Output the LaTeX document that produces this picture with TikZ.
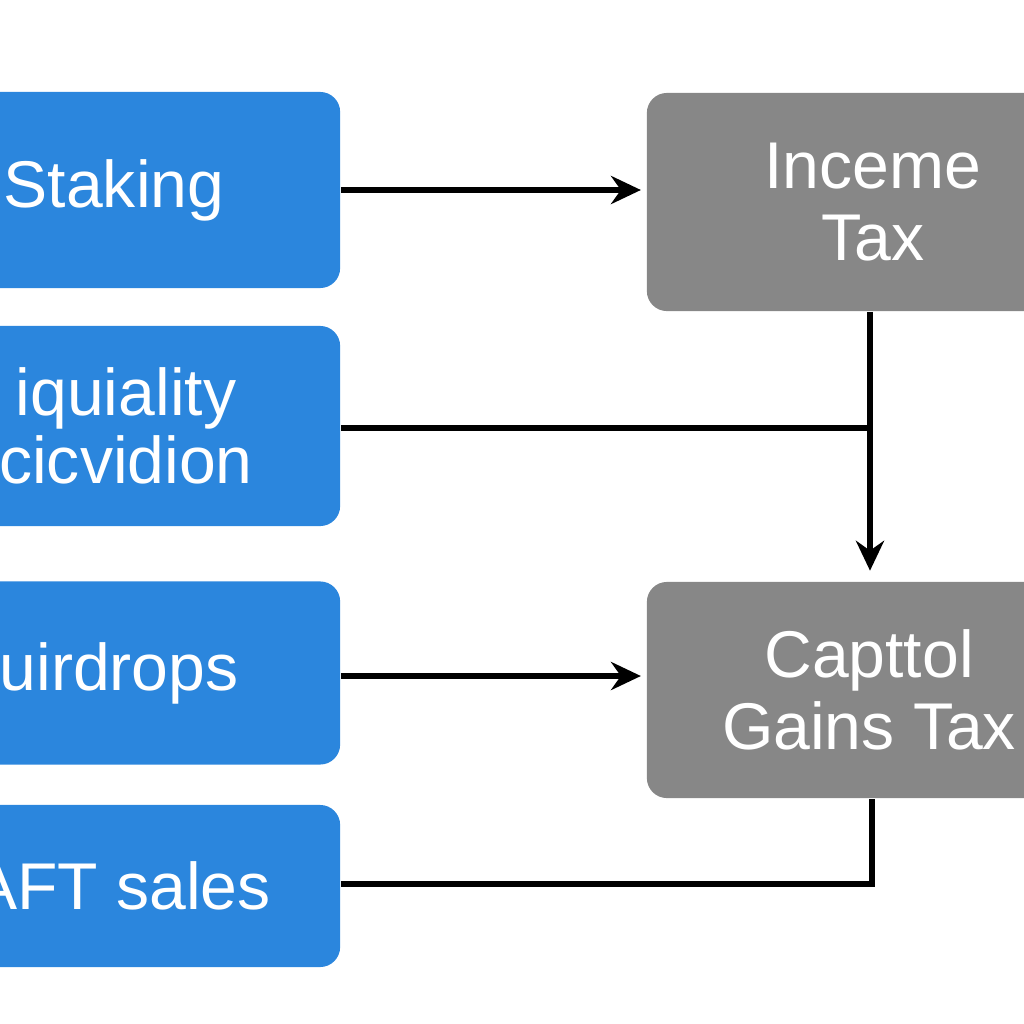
\documentclass[tikz,border=0pt]{standalone}
\usepackage{fontspec}
\setmainfont{Liberation Sans}
\usetikzlibrary{arrows.meta}
\definecolor{srcblue}{HTML}{2B86DD}
\definecolor{taxgray}{HTML}{878787}
\tikzset{
	srcbox/.style={draw=none, fill=srcblue, rounded corners=0.2cm, text=white, align=center, inner sep=0pt, font=\fontsize{18.8}{19.4}\selectfont},
	taxbox/.style={draw=none, fill=taxgray, rounded corners=0.2cm, text=white, align=center, inner sep=0pt, font=\fontsize{18.8}{20.6}\selectfont},
	flow/.style={line width=1.9pt, color=black},
	flowtip/.style={flow, -{Stealth[length=8.5pt, width=8pt, inset=2.8pt]}}
}

\begin{document}
\begin{tikzpicture}[x=0.01cm, y=-0.01cm]
			%%%%% START %%%%%
			\useasboundingbox (0, 0) rectangle (1024, 1024);
			\clip (0, 0) rectangle (1024, 1024);
			
			% left column
			\node[srcbox, minimum width=4.52cm, minimum height=1.96cm] (staking) at (114, 190) {Staking};
			\node[srcbox, minimum width=4.28cm, minimum height=2.00cm] (liquid) at (126, 426) {iquiality\\cicvidion};
			\node[srcbox, minimum width=4.42cm, minimum height=1.83cm] (airdrop) at (119, 673) {uirdrops};
			\node[srcbox, minimum width=4.36cm, minimum height=1.62cm] (nftsale) at (122, 886) {AFT sales};
			
			% right column
			\node[taxbox, minimum width=4.52cm, minimum height=2.18cm] (income) at (873, 202) {Inceme\\Tax};
			\node[taxbox, minimum width=4.44cm, minimum height=2.16cm] (capital) at (869, 690) {Capttol\\Gains Tax};
			
			% connectors
			\draw[flowtip, shorten >=1.5pt] (staking.east) -- (staking.east -| income.west);
			\draw[flowtip, shorten >=1.5pt] ([yshift=-0.03cm]airdrop.east) -- ([yshift=-0.03cm]airdrop.east -| capital.west);
			\draw[flowtip, shorten >=3pt] ([xshift=-0.03cm]income.south) -- ([xshift=-0.03cm]income.south |- capital.north);
			\draw[flow] ([yshift=-0.02cm]liquid.east) -- ([yshift=-0.02cm, xshift=-0.03cm]liquid.east -| income.south);
			\draw[flow] ([yshift=0.02cm]nftsale.east) -| ([xshift=0.03cm]capital.south);
			
			%%%%% END %%%%%
		\end{tikzpicture}
\end{document}
